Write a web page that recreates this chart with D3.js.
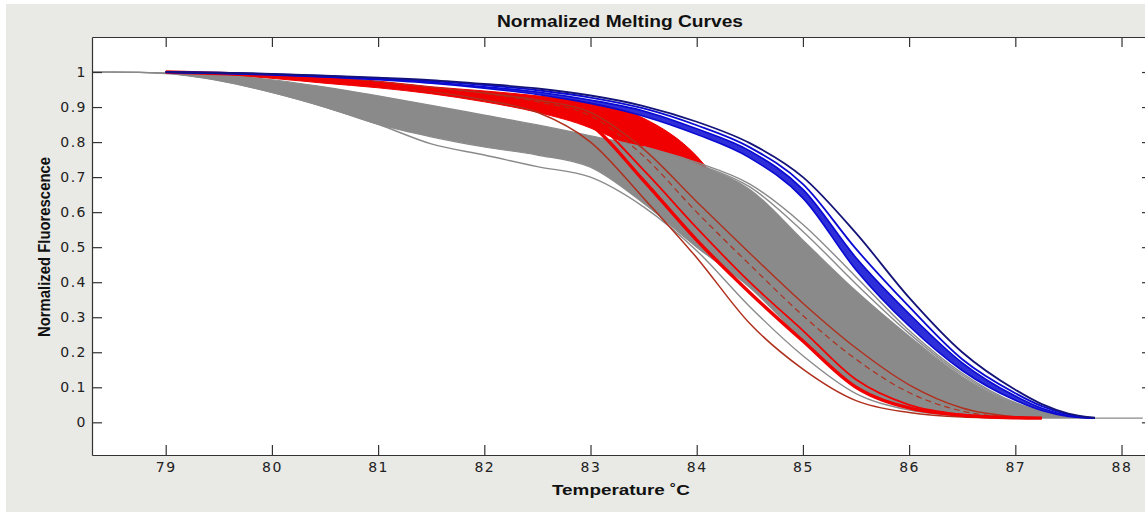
<!DOCTYPE html>
<html lang="en">
<head>
<meta charset="utf-8">
<style>
  body { margin: 0; background: #fff; }
  svg { display: block; }
</style>
</head>
<body>
<div id="chart"></div>
<script src="https://d3js.org/d3.v7.min.js"></script>
<script>
// temperature grid (deg C) that every curve below is read at
var temps = [78.3, 78.5, 79, 79.5, 80, 80.5, 81, 81.5, 82, 82.5, 83, 83.5, 84, 84.5, 85, 85.5, 86, 86.5, 87, 87.25, 87.5, 87.75, 88, 88.2];

// gray group: upper and lower edge of the dense band, plus separate curves
var grayUpper = [1, 1, 0.998, 0.992, 0.978, 0.957, 0.932, 0.905, 0.877, 0.849, 0.818, 0.785, 0.735, 0.665, 0.52, 0.375, 0.246, 0.13, 0.052, 0.03, 0.016, 0.012, 0.012, 0.012];
var grayLower = [1, 1, 0.996, 0.976, 0.942, 0.9, 0.851, 0.815, 0.786, 0.763, 0.728, 0.625, 0.5, 0.385, 0.235, 0.105, 0.045, 0.022, 0.013, 0.012, 0.012, 0.012, 0.012, 0.012];
var grayThin  = [1, 1, 0.996, 0.976, 0.942, 0.9, 0.851, 0.795, 0.763, 0.73, 0.7, 0.615, 0.49, 0.33, 0.19, 0.082, 0.035, 0.018, 0.012, null, null, null, null, null];
var grayLine1 = [null, null, null, null, null, null, null, null, null, null, null, 0.787, 0.742, 0.68, 0.565, 0.415, 0.262, 0.14, 0.056, 0.032, 0.017, 0.012, null, null];
var grayLine2 = [null, null, null, null, null, null, null, null, null, null, null, 0.786, 0.738, 0.672, 0.545, 0.395, 0.254, 0.135, 0.054, 0.031, 0.016, 0.012, null, null];

// red group: edges of the red bundle and single red curves
var redUpper = [null, null, 1, 0.997, 0.992, 0.985, 0.974, 0.958, 0.946, 0.932, 0.912, 0.868, 0.76, 0.55, 0.35, 0.18, 0.08, 0.035, 0.015, 0.012, null, null, null, null];
var redLower = [null, null, 0.998, 0.992, 0.982, 0.968, 0.955, 0.938, 0.915, 0.885, 0.84, 0.76, 0.6, 0.4, 0.25, 0.12, 0.05, 0.02, 0.012, 0.012, null, null, null, null];
var redBand  = [null, null, 1, 0.996, 0.99, 0.98, 0.966, 0.95, 0.93, 0.905, 0.85, 0.69, 0.52, 0.37, 0.232, 0.1, 0.041, 0.02, 0.013, 0.012, null, null, null, null];
var redBand2 = [null, null, 1, 0.996, 0.99, 0.981, 0.968, 0.952, 0.935, 0.91, 0.865, 0.72, 0.555, 0.4, 0.262, 0.122, 0.05, 0.022, 0.013, 0.012, null, null, null, null];
var redLow   = [null, null, 1, 0.996, 0.99, 0.979, 0.964, 0.945, 0.92, 0.885, 0.8, 0.64, 0.47, 0.282, 0.152, 0.062, 0.028, 0.015, 0.012, null, null, null, null, null];
var redMid   = [null, null, 1, 0.997, 0.992, 0.984, 0.972, 0.956, 0.94, 0.92, 0.885, 0.78, 0.63, 0.483, 0.34, 0.212, 0.107, 0.041, 0.016, 0.012, null, null, null, null];
var redMid2  = [null, null, 1, 0.997, 0.992, 0.984, 0.971, 0.955, 0.938, 0.915, 0.875, 0.76, 0.6, 0.45, 0.305, 0.18, 0.085, 0.032, 0.014, 0.012, null, null, null, null];

// blue group (latest melting)
var blue1 = [null, null, 1, 0.998, 0.995, 0.99, 0.984, 0.977, 0.966, 0.953, 0.933, 0.903, 0.858, 0.797, 0.70, 0.54, 0.356, 0.2, 0.093, 0.052, 0.025, 0.013, null, null];
var blue2 = [null, null, 1, 0.998, 0.994, 0.989, 0.982, 0.974, 0.963, 0.948, 0.927, 0.896, 0.848, 0.785, 0.68, 0.495, 0.33, 0.18, 0.083, 0.046, 0.022, 0.012, null, null];
var blue3 = [null, null, 1, 0.997, 0.993, 0.987, 0.98, 0.971, 0.958, 0.943, 0.92, 0.889, 0.838, 0.775, 0.665, 0.47, 0.31, 0.17, 0.075, 0.04, 0.019, 0.012, null, null];
var blue4 = [null, null, 0.999, 0.996, 0.992, 0.986, 0.978, 0.968, 0.954, 0.936, 0.91, 0.874, 0.822, 0.755, 0.64, 0.435, 0.275, 0.148, 0.063, 0.034, 0.017, 0.012, null, null];

// axis ticks
var xTicks = [79, 80, 81, 82, 83, 84, 85, 86, 87, 88];
var yTicks = [0, 0.1, 0.2, 0.3, 0.4, 0.5, 0.6, 0.7, 0.8, 0.9, 1];
var yTickLabels = ["0", "0.1", "0.2", "0.3", "0.4", "0.5", "0.6", "0.7", "0.8", "0.9", "1"];

// page and plot box
var W = 1145, H = 512;
var box = { left: 92, right: 1152, top: 37, bottom: 455 };

var svg = d3.select("#chart").append("svg")
    .attr("width", W)
    .attr("height", H);

// figure background (matlab style gray)
svg.append("rect")
    .attr("x", 6).attr("y", 4)
    .attr("width", W - 6).attr("height", H - 4)
    .attr("fill", "#e9e9e5");

svg.append("rect")
    .attr("x", box.left).attr("y", box.top)
    .attr("width", box.right - box.left).attr("height", box.bottom - box.top)
    .attr("fill", "#ffffff");

var x = d3.scaleLinear().domain([78.306, 88.287]).range([box.left, box.right]);
var y = d3.scaleLinear().domain([-0.0933, 1.1]).range([box.bottom, box.top]);

svg.append("clipPath").attr("id", "plotclip")
    .append("rect")
    .attr("x", box.left).attr("y", box.top)
    .attr("width", box.right - box.left).attr("height", box.bottom - box.top);

var plot = svg.append("g").attr("clip-path", "url(#plotclip)");

// pair up the grid with a series
function pts(vals) {
    return temps.map(function (t, i) { return { t: t, v: vals[i] }; });
}
function band(lo, hi) {
    return temps.map(function (t, i) { return { t: t, lo: lo[i], hi: hi[i] }; });
}

var line = d3.line()
    .defined(function (d) { return d.v != null; })
    .x(function (d) { return x(d.t); })
    .y(function (d) { return y(d.v); })
    .curve(d3.curveMonotoneX);

var area = d3.area()
    .defined(function (d) { return d.lo != null && d.hi != null; })
    .x(function (d) { return x(d.t); })
    .y0(function (d) { return y(d.lo); })
    .y1(function (d) { return y(d.hi); })
    .curve(d3.curveMonotoneX);

var RED = "#f00000", DARKRED = "#b0301e", GRAY = "#8a8a8a", BLUE = "#0a0ad2", NAVY = "#141478";

// red bundle first, the gray band covers its lower part
plot.append("path")
    .attr("d", area(band(redLower, redUpper)))
    .attr("fill", RED).attr("stroke", RED).attr("stroke-width", 1);

// gray band
plot.append("path")
    .attr("d", area(band(grayLower, grayUpper)))
    .attr("fill", GRAY).attr("stroke", GRAY).attr("stroke-width", 1.2);

var grayLines = [grayThin, grayLine1, grayLine2];
plot.selectAll(".gline")
    .data(grayLines)
    .enter()
    .append("path")
    .attr("class", "gline")
    .attr("d", function (d) { return line(pts(d)); })
    .attr("fill", "none")
    .attr("stroke", GRAY)
    .attr("stroke-width", 1.4);

// single red curves drawn on top of the gray band
var redLines = [
    { vals: redMid2, color: DARKRED, w: 1.2, dash: "6,4" },
    { vals: redMid, color: DARKRED, w: 1.4, dash: null },
    { vals: redLow, color: DARKRED, w: 1.5, dash: null },
    { vals: redBand2, color: RED, w: 1.8, dash: null },
    { vals: redBand, color: RED, w: 3.4, dash: null }
];
plot.selectAll(".rline")
    .data(redLines)
    .enter()
    .append("path")
    .attr("class", "rline")
    .attr("d", function (d) { return line(pts(d.vals)); })
    .attr("fill", "none")
    .attr("stroke", function (d) { return d.color; })
    .attr("stroke-width", function (d) { return d.w; })
    .attr("stroke-dasharray", function (d) { return d.dash; });

// blue: hatched bundle plus edge curves
plot.append("path")
    .attr("d", area(band(blue4, blue3)))
    .attr("fill", BLUE).attr("fill-opacity", 0.85);

var blueLines = [
    { vals: blue4, color: BLUE, w: 1.6 },
    { vals: blue3, color: BLUE, w: 1.6 },
    { vals: blue2, color: BLUE, w: 1.8 },
    { vals: blue1, color: NAVY, w: 1.8 }
];
plot.selectAll(".bline")
    .data(blueLines)
    .enter()
    .append("path")
    .attr("class", "bline")
    .attr("d", function (d) { return line(pts(d.vals)); })
    .attr("fill", "none")
    .attr("stroke", function (d) { return d.color; })
    .attr("stroke-width", function (d) { return d.w; });

// axes: ticks point into the box on all four sides
function styleAxis(g) {
    g.attr("font-family", "'DejaVu Sans', sans-serif").attr("font-size", 14);
    g.select(".domain").attr("stroke", "#333").attr("stroke-width", 1.2);
    g.selectAll(".tick line").attr("stroke", "#333").attr("stroke-width", 1.2);
    g.selectAll(".tick text").attr("fill", "#222").style("letter-spacing", "1.5px");
}

svg.append("g")
    .attr("transform", "translate(0," + box.bottom + ")")
    .call(d3.axisBottom(x).tickValues(xTicks).tickSize(-10).tickSizeOuter(0).tickPadding(7).tickFormat(d3.format("d")))
    .call(styleAxis);

svg.append("g")
    .attr("transform", "translate(0," + box.top + ")")
    .call(d3.axisTop(x).tickValues(xTicks).tickSize(-10).tickSizeOuter(0).tickFormat(""))
    .call(styleAxis);

svg.append("g")
    .attr("transform", "translate(" + box.left + ",0)")
    .call(d3.axisLeft(y).tickValues(yTicks).tickSize(-10).tickSizeOuter(0).tickPadding(5)
        .tickFormat(function (d, i) { return yTickLabels[i]; }))
    .call(styleAxis);

svg.append("g")
    .attr("transform", "translate(" + box.right + ",0)")
    .call(d3.axisRight(y).tickValues(yTicks).tickSize(-10).tickSizeOuter(0).tickFormat(""))
    .call(styleAxis);

// title and axis labels
svg.append("text")
    .attr("x", 620).attr("y", 27)
    .attr("text-anchor", "middle")
    .attr("font-family", "'Liberation Sans', Arial, sans-serif")
    .attr("font-weight", "bold").attr("font-size", 16)
    .attr("textLength", 246).attr("lengthAdjust", "spacingAndGlyphs")
    .attr("fill", "#111")
    .text("Normalized Melting Curves");

svg.append("text")
    .attr("x", 621).attr("y", 495)
    .attr("text-anchor", "middle")
    .attr("font-family", "'Liberation Sans', Arial, sans-serif")
    .attr("font-weight", "bold").attr("font-size", 15)
    .attr("textLength", 138).attr("lengthAdjust", "spacingAndGlyphs")
    .attr("fill", "#111")
    .text("Temperature \u02DAC");

svg.append("text")
    .attr("transform", "translate(50,247) rotate(-90)")
    .attr("text-anchor", "middle")
    .attr("font-family", "'Liberation Sans', Arial, sans-serif")
    .attr("font-weight", "bold").attr("font-size", 17)
    .attr("textLength", 180).attr("lengthAdjust", "spacingAndGlyphs")
    .attr("fill", "#111")
    .text("Normalized Fluorescence");
</script>
</body>
</html>
